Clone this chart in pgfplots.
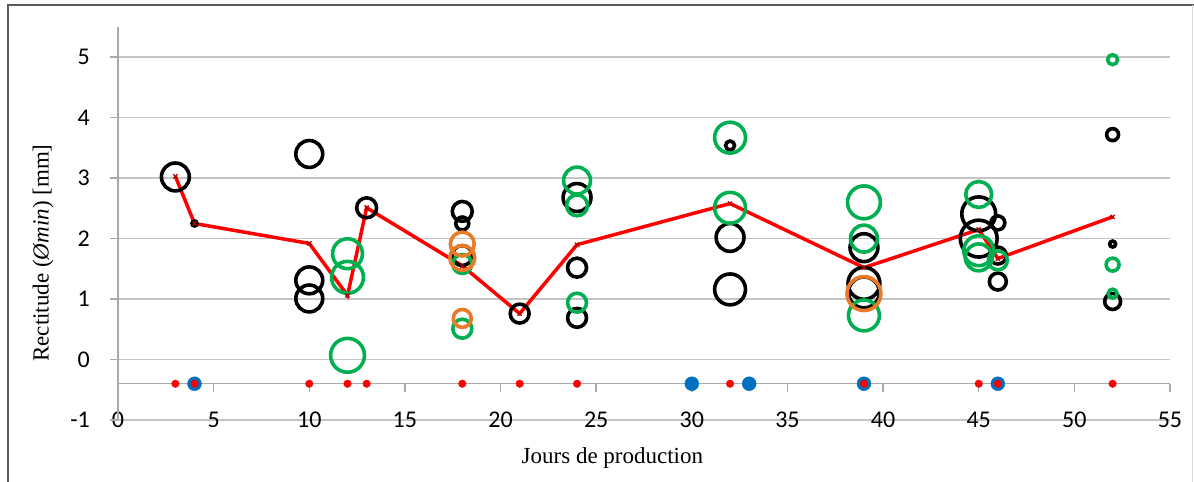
\documentclass[border=0pt]{standalone}
\usepackage{pgfplots}
\usepackage{pgfplotstable}
\pgfplotsset{compat=1.18}
\usepackage{fontspec}
\setmainfont{Liberation Serif}
\newfontfamily\carlito{Carlito}
\definecolor{xgreen}{RGB}{0,176,80}
\definecolor{xorange}{RGB}{232,122,40}
\definecolor{xblue}{RGB}{0,112,192}
\definecolor{xgrid}{RGB}{196,196,196}
\definecolor{xaxis}{RGB}{170,170,170}
\definecolor{xborder}{RGB}{90,90,90}

\pgfplotstableread{
x y r
3 3.02 14
4 2.25 2.5
10 3.40 13.5
10 1.31 13.5
10 1.01 13.5
13 2.51 10
18 2.45 10
18 2.25 6.5
18 1.72 10
21 0.76 9.5
24 2.68 14
24 1.52 9.5
24 0.69 9.5
32 3.54 4.5
32 2.02 14
32 1.16 15.5
39 1.85 14
39 1.26 16
39 1.11 15.5
45 2.41 17
45 2.00 18.5
46 2.26 7
46 1.72 8.5
46 1.29 8.5
52 3.72 6
52 1.91 3
52 0.96 8
}\blackdata

\pgfplotstableread{
x y r
12 1.75 15
12 1.36 16
12 0.07 17
18 1.58 9.5
18 0.51 9.5
24 2.96 13.5
24 2.55 10.5
24 0.94 9.5
32 3.67 15.5
32 2.51 15.5
39 2.60 16.5
39 2.00 13.5
39 0.73 15.5
45 2.73 13
45 1.80 15
45 1.69 13.5
46 1.64 9.5
52 4.96 5
52 1.57 6.5
52 1.09 4.5
}\greendata

\pgfplotstableread{
x y r
18 1.91 12
18 1.68 12.5
18 0.68 9
39 1.09 17
}\orangedata

\pgfplotstableread{
x y
3 3.03
4 2.25
10 1.92
12 1.06
13 2.51
18 1.55
21 0.76
24 1.90
32 2.58
39 1.52
45 2.15
46 1.67
52 2.36
}\reddata

\pgfplotstableread{
x y
3 -0.4
4 -0.4
10 -0.4
12 -0.4
13 -0.4
18 -0.4
21 -0.4
24 -0.4
32 -0.4
39 -0.4
45 -0.4
46 -0.4
52 -0.4
}\reddots

\pgfplotstableread{
x y
4 -0.4
30 -0.4
33 -0.4
39 -0.4
46 -0.4
}\bluedots

\begin{document}
\begin{tikzpicture}
\useasboundingbox (-118bp,-62bp) rectangle (1076bp,420bp);
\draw[xborder, line width=1.2bp] (-110bp,-62bp) -- (-110bp,415bp) -- (1076bp,415bp);
\draw[xgrid!60, line width=0.8bp] (1074bp,415bp) -- (1074bp,-62bp);
\begin{axis}[
  at={(0,0)}, anchor=south west,
  scale only axis, width=1052bp, height=393bp,
  xmin=0, xmax=55, ymin=-1, ymax=5.5,
  axis line style={draw=none},
  xtick={0,5,...,55}, ytick={-1,0,...,5},
  major tick length=0pt,
  ymajorgrids, grid style={xgrid, line width=1.5bp},
  ticklabel style={font=\carlito\fontsize{24bp}{28bp}\selectfont, text=black},
  /pgf/number format/assume math mode=true,
  xticklabel style={anchor=center, inner sep=0pt},
  yticklabel style={anchor=east, inner sep=0pt, xshift=-28bp},
  clip=false,
  xlabel={Jours de production},
  ylabel={Rectitude (\textit{Ømin}) [mm]},
  label style={font=\fontsize{23bp}{27bp}\selectfont},
  xlabel style={at={(axis description cs:0.47,-0.0967)}, anchor=center},
  ylabel style={at={(axis description cs:-0.0713,0.425)}, anchor=center},
]
\draw[xaxis, line width=1.5bp] (axis cs:0,-1) -- (axis cs:0,5.5);
\pgfplotsinvokeforeach{-1,0,1,2,3,4,5}{\draw[xaxis, line width=1.5bp] (axis cs:0,#1) -- ++(-8bp,0pt);}
\draw[xaxis, line width=1.5bp] (axis cs:0,-0.4) -- (axis cs:55,-0.4);
\pgfplotsinvokeforeach{5,10,15,20,25,30,35,40,45,50,55}{\draw[xaxis, line width=1.5bp] (axis cs:#1,-0.4) -- ++(0pt,-8bp);}

\addplot[scatter, only marks, mark=o,
    scatter/use mapped color={draw=black, fill=none},
    mark options={line width=3.6bp},
    visualization depends on={\thisrow{r} \as \rad},
    scatter/@pre marker code/.append style={/tikz/mark size=\rad}] table {\blackdata};
\addplot[scatter, only marks, mark=o,
    scatter/use mapped color={draw=xgreen, fill=none},
    mark options={line width=3.6bp},
    visualization depends on={\thisrow{r} \as \rad},
    scatter/@pre marker code/.append style={/tikz/mark size=\rad}] table {\greendata};
\addplot[scatter, only marks, mark=o,
    scatter/use mapped color={draw=xorange, fill=none},
    mark options={line width=3.6bp},
    visualization depends on={\thisrow{r} \as \rad},
    scatter/@pre marker code/.append style={/tikz/mark size=\rad}] table {\orangedata};

\addplot[red, line width=3.5bp, mark=x, mark size=3, mark options={red!70!black, line width=1.2bp}] table {\reddata};

\addplot[only marks, mark=*, mark size=7, mark options={draw=xblue, fill=xblue}] table {\bluedots};
\addplot[only marks, mark=*, mark size=3.8, mark options={draw=red, fill=red}] table {\reddots};
\end{axis}
\end{tikzpicture}
\end{document}
